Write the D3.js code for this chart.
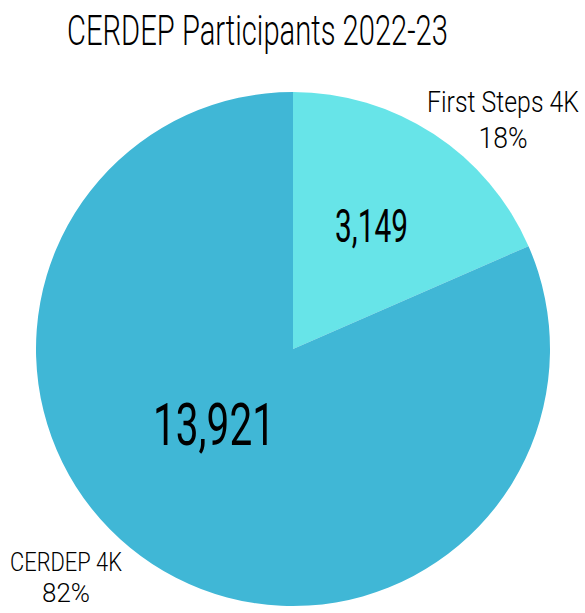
<!DOCTYPE html>
<html>
<head>
<meta charset="utf-8">
<script src="https://cdn.jsdelivr.net/npm/d3@7"></script>
<style>
  html, body { margin: 0; padding: 0; background: #fff; }
  text { font-family: "Roboto", "Liberation Sans Narrow", sans-serif; font-weight: 300; fill: #000; }
</style>
</head>
<body>
<svg id="chart" width="585" height="613"></svg>
<script>
const title = "CERDEP Participants 2022-23";
const categories = ["First Steps 4K", "CERDEP 4K"];
const values = [3149, 13921];
const percentLabels = ["18%", "82%"];
const colors = ["#67E4E8", "#40B7D6"];

const svg = d3.select("#chart");
const cx = 293, cy = 349, r = 257;

// squeeze a text horizontally to a target width (condensed look)
function condensed(sel, centerX, baseY, targetW) {
  const len = sel.node().getComputedTextLength();
  const s = targetW / len;
  sel.attr("text-anchor", "middle").attr("x", 0).attr("y", 0)
     .attr("transform", `translate(${centerX},${baseY}) scale(${s},1)`);
  return s;
}

condensed(svg.append("text").attr("font-size", 42).text(title), 257.5, 45, 381);

const pie = d3.pie().sort(null).value(d => d)(values);
const arc = d3.arc().innerRadius(0).outerRadius(r);
const g = svg.append("g").attr("transform", `translate(${cx},${cy})`);

g.selectAll("path").data(pie).enter().append("path")
  .attr("d", arc)
  .attr("fill", (d, i) => colors[i]);

// value labels
const fmt = d3.format(",");
const valueLayout = [
  { x: 371.5, y: 242, size: 47, w: 73 },
  { x: 214, y: 445, size: 60, w: 122 }
];
values.forEach((v, i) => {
  const L = valueLayout[i];
  const t = svg.append("text").attr("font-size", L.size).style("font-weight", 400).text(fmt(v));
  condensed(t, L.x, L.y, L.w);
});

// category labels (two lines each)
const catLayout = [
  { x: 503, y: 112, w1: 152, w2: 49, dy: 36, size: 29 },
  { x: 66, y: 571, w1: 112, w2: 48, dy: 31, size: 26 }
];
categories.forEach((c, i) => {
  const L = catLayout[i];
  const t = svg.append("text").attr("font-size", L.size);
  const l1 = t.append("tspan").attr("x", 0).attr("y", 0).text(c);
  const len1 = l1.node().getComputedTextLength();
  const s = L.w1 / len1;
  const l2 = t.append("tspan").attr("x", 0).attr("dy", L.dy).text(percentLabels[i]);
  l2.attr("textLength", L.w2 / s).attr("lengthAdjust", "spacingAndGlyphs");
  t.attr("text-anchor", "middle")
   .attr("transform", `translate(${L.x},${L.y}) scale(${s},1)`);
});
</script>
</body>
</html>
